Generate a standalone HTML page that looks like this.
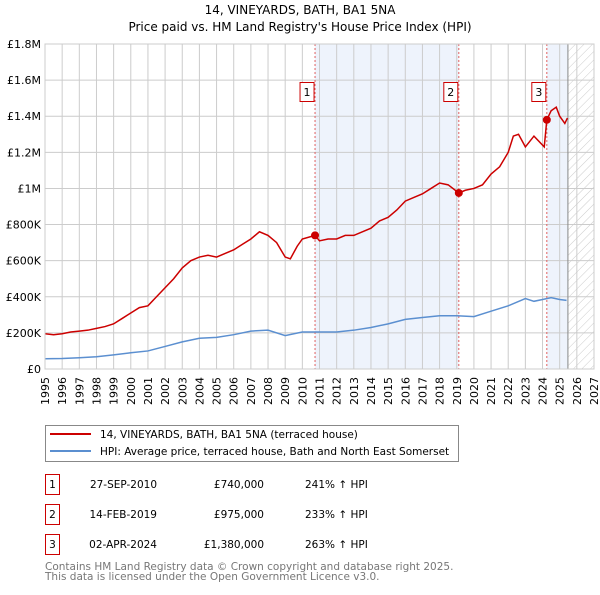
<!DOCTYPE html>
<html><head><meta charset="utf-8"><style>
body{margin:0;background:#fff;font-family:"Liberation Sans","DejaVu Sans",sans-serif;}
svg text{font-family:"DejaVu Sans","Liberation Sans",sans-serif;}
</style></head><body>
<svg id="c" width="600" height="590" xmlns="http://www.w3.org/2000/svg">
<defs><pattern id="hatch" width="6" height="6" patternUnits="userSpaceOnUse" patternTransform="rotate(45)"><line x1="0" y1="0" x2="0" y2="6" stroke="#ccc" stroke-width="1"/></pattern></defs>
<text x="300" y="14" text-anchor="middle" font-size="12">14, VINEYARDS, BATH, BA1 5NA</text>
<text x="300" y="31" text-anchor="middle" font-size="12">Price paid vs. HM Land Registry's House Price Index (HPI)</text>
<g id="plot"></g>
<g>
<rect x="45.5" y="425.5" width="413" height="36" fill="#fff" stroke="#888"/>
<line x1="50" y1="434" x2="91" y2="434" stroke="#c00" stroke-width="2"/>
<text x="100" y="438" font-size="10.5">14, VINEYARDS, BATH, BA1 5NA (terraced house)</text>
<line x1="50" y1="451" x2="91" y2="451" stroke="#5b8fd0" stroke-width="2"/>
<text x="100" y="455" font-size="10.5">HPI: Average price, terraced house, Bath and North East Somerset</text>
</g>
<g id="table" font-size="10.5"></g>
<text x="45" y="570" font-size="10.5" fill="#777">Contains HM Land Registry data © Crown copyright and database right 2025.</text>
<text x="45" y="580" font-size="10.5" fill="#777">This data is licensed under the Open Government Licence v3.0.</text>
</svg>
<script>
const years=[1995,1996,1997,1998,1999,2000,2001,2002,2003,2004,2005,2006,2007,2008,2009,2010,2011,2012,2013,2014,2015,2016,2017,2018,2019,2020,2021,2022,2023,2024,2025,2026,2027];
const yTicks=[0,200000,400000,600000,800000,1000000,1200000,1400000,1600000,1800000];
const yTickLabels=["£0","£200K","£400K","£600K","£800K","£1M","£1.2M","£1.4M","£1.6M","£1.8M"];
const redT=[1995,1995.5,1996,1996.5,1997,1997.5,1998,1998.5,1999,1999.5,2000,2000.5,2001,2001.5,2002,2002.5,2003,2003.5,2004,2004.5,2005,2005.5,2006,2006.5,2007,2007.5,2008,2008.5,2009,2009.3,2009.7,2010,2010.74,2011,2011.5,2012,2012.5,2013,2013.5,2014,2014.5,2015,2015.5,2016,2016.5,2017,2017.5,2018,2018.5,2019.12,2019.5,2020,2020.5,2021,2021.5,2022,2022.3,2022.6,2023,2023.5,2024.1,2024.25,2024.5,2024.8,2025,2025.3,2025.45];
const redV=[195000,190000,195000,205000,210000,215000,225000,235000,250000,280000,310000,340000,350000,400000,450000,500000,560000,600000,620000,630000,620000,640000,660000,690000,720000,760000,740000,700000,620000,610000,680000,720000,740000,710000,720000,720000,740000,740000,760000,780000,820000,840000,880000,930000,950000,970000,1000000,1030000,1020000,975000,990000,1000000,1020000,1080000,1120000,1200000,1290000,1300000,1230000,1290000,1230000,1380000,1430000,1450000,1400000,1360000,1390000];
const hpiT=[1995,1996,1997,1998,1999,2000,2001,2002,2003,2004,2005,2006,2007,2008,2009,2010,2011,2012,2013,2014,2015,2016,2017,2018,2019,2020,2021,2022,2023,2023.5,2024,2024.5,2025,2025.4];
const hpiV=[57000,58000,62000,68000,78000,90000,100000,125000,150000,170000,175000,190000,210000,215000,185000,205000,205000,205000,215000,230000,250000,275000,285000,295000,295000,290000,320000,350000,390000,375000,385000,395000,385000,380000];
const saleT=[2010.74,2019.12,2024.25];
const saleV=[740000,975000,1380000];
const saleLabels=["1","2","3"];
const saleDates=["27-SEP-2010","14-FEB-2019","02-APR-2024"];
const salePrices=["£740,000","£975,000","£1,380,000"];
const saleHpi=["241% ↑ HPI","233% ↑ HPI","263% ↑ HPI"];
const dataEnd=2025.48;

const X0=45,X1=594,Y0=369,Y1=44,T0=1995,T1=2027,VMAX=1800000;
const xs=t=>X0+(t-T0)/(T1-T0)*(X1-X0);
const ys=v=>Y0-v/VMAX*(Y0-Y1);
const NS="http://www.w3.org/2000/svg";
const plot=document.getElementById('plot');
function mk(tag,attrs,parent){const e=document.createElementNS(NS,tag);for(const k in attrs)e.setAttribute(k,attrs[k]);(parent||plot).appendChild(e);return e;}
let e;
e=mk('rect',{x:X0,y:Y1,width:X1-X0,height:Y0-Y1,fill:'#fff'});


e=mk('rect',{x:xs(saleT[0]),y:Y1,width:xs(saleT[1])-xs(saleT[0]),height:Y0-Y1,fill:'#eef3fc'});


e=mk('rect',{x:xs(saleT[2]),y:Y1,width:xs(dataEnd)-xs(saleT[2]),height:Y0-Y1,fill:'#eef3fc'});


e=mk('rect',{x:xs(dataEnd),y:Y1,width:X1-xs(dataEnd),height:Y0-Y1,fill:'url(#hatch)'});


years.forEach(y=>{const x=xs(y);
 e=mk('line',{x1:x,y1:Y1,x2:x,y2:Y0,stroke:'#ccc','stroke-width':1});
 
 
 e=mk('text',{x:0,y:0,'text-anchor':'end','font-size':11,transform:'translate('+(x+4)+','+(Y0+8)+') rotate(-90)'});e.textContent=y;
 
 
});
yTicks.forEach((v,i)=>{const y=ys(v);
 e=mk('line',{x1:X0,y1:y,x2:X1,y2:y,stroke:'#ccc','stroke-width':1});
 
 
 e=mk('text',{x:X0-4,y:y+4,'text-anchor':'end','font-size':11});e.textContent=yTickLabels[i];
 
 
});
e=mk('line',{x1:xs(dataEnd),y1:Y1,x2:xs(dataEnd),y2:Y0,stroke:'#888','stroke-width':1});


saleT.forEach(t=>{e=mk('line',{x1:xs(t),y1:Y1,x2:xs(t),y2:Y0,stroke:'#e06060','stroke-width':1,'stroke-dasharray':'2,2'});
 
 });
e=mk('polyline',{points:hpiT.map((t,i)=>xs(t)+','+ys(hpiV[i])).join(' '),fill:'none',stroke:'#5b8fd0','stroke-width':1.5});


e=mk('polyline',{points:redT.map((t,i)=>xs(t)+','+ys(redV[i])).join(' '),fill:'none',stroke:'#c00','stroke-width':1.5});


saleT.forEach((t,i)=>{
 e=mk('circle',{cx:xs(t),cy:ys(saleV[i]),r:4,fill:'#c00'});
 
 
 const bx=xs(t)-15;
 e=mk('rect',{x:bx,y:82.5,width:14,height:19,fill:'#fff',stroke:'#c00'});
 
 
 e=mk('text',{x:bx+7,y:96,'text-anchor':'middle','font-size':11});e.textContent=saleLabels[i];
 
 
});
e=mk('rect',{x:X0,y:Y1,width:X1-X0,height:Y0-Y1,fill:'none',stroke:'#ccc'});


const tbl=document.getElementById('table');
saleT.forEach((t,i)=>{const y=476+i*30;
 e=mk('rect',{x:45.5,y:y-1.5,width:14,height:20,fill:'#fff',stroke:'#c00'},tbl);
 
 
 e=mk('text',{x:52.5,y:y+12,'text-anchor':'middle'},tbl);e.textContent=saleLabels[i];
 
 
 e=mk('text',{x:157,y:y+12,'text-anchor':'end'},tbl);e.textContent=saleDates[i];
 
 
 e=mk('text',{x:264,y:y+12,'text-anchor':'end'},tbl);e.textContent=salePrices[i];
 
 
 e=mk('text',{x:305,y:y+12},tbl);e.textContent=saleHpi[i];
 
 
});
</script>
</body></html>
